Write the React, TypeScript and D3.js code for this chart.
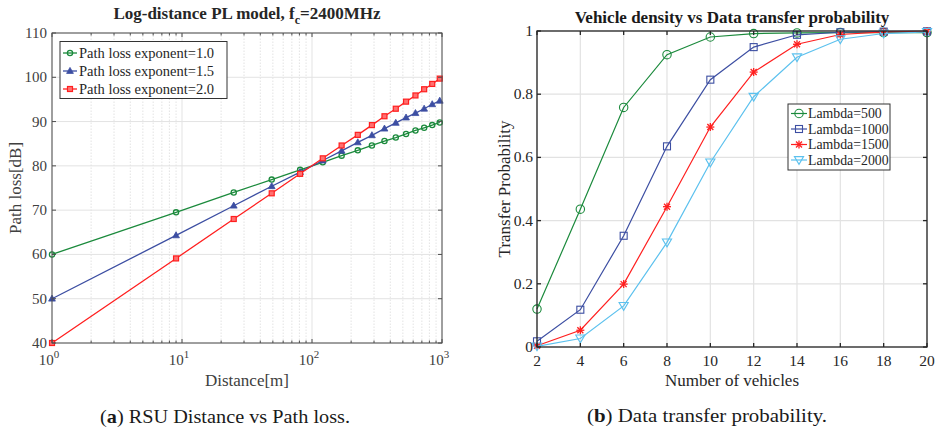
import React from "react";
import * as d3 from "d3";

// ---------- Data: left chart ----------
const distances = [1, 9, 25, 49, 81, 121, 169, 225, 289, 361, 441, 529, 625, 729, 841, 961];
const plExp10 = [60, 69.5, 74.0, 76.9, 79.1, 80.8, 82.3, 83.5, 84.6, 85.6, 86.4, 87.2, 88.0, 88.6, 89.2, 89.8];
const plExp15 = [50, 64.3, 71.0, 75.4, 78.6, 81.2, 83.4, 85.3, 86.9, 88.4, 89.7, 90.9, 91.9, 92.9, 93.9, 94.7];
const plExp20 = [40, 59.1, 68.0, 73.8, 78.2, 81.7, 84.6, 87.0, 89.2, 91.2, 92.9, 94.5, 95.9, 97.3, 98.5, 99.7];
const leftSeriesNames = ["Path loss exponent=1.0", "Path loss exponent=1.5", "Path loss exponent=2.0"];
const leftYTicks = [40, 50, 60, 70, 80, 90, 100, 110];
const leftXTicks = [1, 10, 100, 1000];

// ---------- Data: right chart ----------
const vehicles = [2, 4, 6, 8, 10, 12, 14, 16, 18, 20];
const lambda500 = [0.12, 0.436, 0.758, 0.925, 0.981, 0.992, 0.994, 0.995, 0.995, 0.995];
const lambda1000 = [0.018, 0.118, 0.352, 0.635, 0.846, 0.949, 0.988, 0.996, 0.998, 0.999];
const lambda1500 = [0.004, 0.053, 0.199, 0.444, 0.696, 0.870, 0.958, 0.989, 0.997, 0.999];
const lambda2000 = [0.002, 0.027, 0.13, 0.331, 0.584, 0.792, 0.917, 0.974, 0.992, 0.997];
const rightSeriesNames = ["Lambda=500", "Lambda=1000", "Lambda=1500", "Lambda=2000"];
const rightYTicks = [0, 0.2, 0.4, 0.6, 0.8, 1];
const rightYTickLabels = ["0", "0.2", "0.4", "0.6", "0.8", "1"];

const FONT = "'Liberation Serif', 'Times New Roman', serif";
const GREEN = "#1b8a3c";
const BLUE = "#3c4ea2";
const RED = "#ff1f1f";
const LBLUE = "#5cc1ee";

type MarkerKind = "circle" | "triangle" | "square" | "asterisk" | "tridown" | "bigcircle" | "bigsquare";

function Marker({ kind, x, y, color }: { kind: MarkerKind; x: number; y: number; color: string }) {
  switch (kind) {
    case "circle":
      return <circle cx={x} cy={y} r={2.6} fill="none" stroke={color} strokeWidth={1.3} />;
    case "triangle":
      return (
        <path
          d={`M${x},${y - 3.6}L${x + 3.4},${y + 2.4}L${x - 3.4},${y + 2.4}Z`}
          fill={color}
          stroke={color}
          strokeWidth={0.8}
        />
      );
    case "square":
      return <rect x={x - 2.5} y={y - 2.5} width={5} height={5} fill="#ff7070" stroke={color} strokeWidth={1.2} />;
    case "bigcircle":
      return <circle cx={x} cy={y} r={4.2} fill="none" stroke={color} strokeWidth={1.1} />;
    case "bigsquare":
      return <rect x={x - 3.5} y={y - 3.5} width={7} height={7} fill="none" stroke={color} strokeWidth={1.1} />;
    case "asterisk": {
      const r = 4;
      const d = r * 0.75;
      return (
        <g stroke={color} strokeWidth={1.3}>
          <line x1={x - r} y1={y} x2={x + r} y2={y} />
          <line x1={x} y1={y - r} x2={x} y2={y + r} />
          <line x1={x - d} y1={y - d} x2={x + d} y2={y + d} />
          <line x1={x - d} y1={y + d} x2={x + d} y2={y - d} />
        </g>
      );
    }
    case "tridown":
      return (
        <path
          d={`M${x - 4.6},${y - 3.4}L${x + 4.6},${y - 3.4}L${x},${y + 4.4}Z`}
          fill="none"
          stroke={color}
          strokeWidth={1.1}
        />
      );
  }
  return null;
}

function LeftChart() {
  const x0 = 52, x1 = 442, y0 = 343, y1 = 33;
  const x = d3.scaleLog().domain([1, 1000]).range([x0, x1]);
  const y = d3.scaleLinear().domain([40, 110]).range([y0, y1]);
  const series = [
    { vals: plExp10, color: GREEN, marker: "circle" as MarkerKind },
    { vals: plExp15, color: BLUE, marker: "triangle" as MarkerKind },
    { vals: plExp20, color: RED, marker: "square" as MarkerKind },
  ];
  const line = d3
    .line<[number, number]>()
    .x((d) => x(d[0]))
    .y((d) => y(d[1]));
  const minor: number[] = [];
  for (const dec of [1, 10, 100]) for (let k = 2; k <= 9; k++) minor.push(dec * k);
  const axisColor = "#4d4d4d";
  return (
    <g>
      {/* grid */}
      {minor.map((v) => (
        <line key={"mg" + v} x1={x(v)} x2={x(v)} y1={y0} y2={y1} stroke="#dcdcdc" strokeWidth={0.8} strokeDasharray="1.5,1.5" />
      ))}
      {leftXTicks.map((v) => (
        <line key={"xg" + v} x1={x(v)} x2={x(v)} y1={y0} y2={y1} stroke="#e3e3e3" strokeWidth={1} />
      ))}
      {leftYTicks.map((v) => (
        <line key={"yg" + v} x1={x0} x2={x1} y1={y(v)} y2={y(v)} stroke="#e3e3e3" strokeWidth={1} />
      ))}
      {/* series */}
      {series.map((s, i) => (
        <g key={"s" + i}>
          <path
            d={line(distances.map((dd, j) => [dd, s.vals[j]] as [number, number])) || ""}
            fill="none"
            stroke={s.color}
            strokeWidth={1.3}
          />
          {distances.map((dd, j) => (
            <Marker key={j} kind={s.marker} x={x(dd)} y={y(s.vals[j])} color={s.color} />
          ))}
        </g>
      ))}
      {/* axes box */}
      <rect x={x0} y={y1} width={x1 - x0} height={y0 - y1} fill="none" stroke={axisColor} strokeWidth={1} />
      {leftYTicks.map((v) => (
        <g key={"yt" + v}>
          <line x1={x0} x2={x0 + 4} y1={y(v)} y2={y(v)} stroke={axisColor} />
          <line x1={x1} x2={x1 - 4} y1={y(v)} y2={y(v)} stroke={axisColor} />
          <text x={x0 - 5} y={y(v) + 5} textAnchor="end" fontSize={15} fill="#404040" fontFamily={FONT}>
            {v}
          </text>
        </g>
      ))}
      {minor.map((v) => (
        <g key={"mt" + v}>
          <line x1={x(v)} x2={x(v)} y1={y0} y2={y0 - 2.5} stroke={axisColor} />
          <line x1={x(v)} x2={x(v)} y1={y1} y2={y1 + 2.5} stroke={axisColor} />
        </g>
      ))}
      {leftXTicks.map((v) => (
        <g key={"xt" + v}>
          <line x1={x(v)} x2={x(v)} y1={y0} y2={y0 - 4} stroke={axisColor} />
          <line x1={x(v)} x2={x(v)} y1={y1} y2={y1 + 4} stroke={axisColor} />
          <text x={x(v) - 3} y={365} textAnchor="middle" fontSize={15} fill="#404040" fontFamily={FONT}>
            10
            <tspan fontSize={11} dy={-7}>
              {Math.round(Math.log10(v))}
            </tspan>
          </text>
        </g>
      ))}
      {/* labels */}
      <text x={(x0 + x1) / 2} y={386} textAnchor="middle" fontSize={17} fill="#404040" fontFamily={FONT}>
        Distance[m]
      </text>
      <text
        transform={`translate(21,${(y0 + y1) / 2}) rotate(-90)`}
        textAnchor="middle"
        fontSize={17}
        fill="#404040"
        fontFamily={FONT}
      >
        Path loss[dB]
      </text>
      <text x={(x0 + x1) / 2} y={19} textAnchor="middle" fontSize={17} fontWeight="bold" fill="#262626" fontFamily={FONT}>
        Log-distance PL model, f
        <tspan fontSize={12} dy={5}>c</tspan>
        <tspan dy={-5}>=2400MHz</tspan>
      </text>
      {/* legend */}
      <rect x={60} y={41.5} width={167} height={57} fill="#ffffff" stroke="#333" strokeWidth={1} />
      {series.map((s, i) => {
        const ly = 53 + i * 18;
        return (
          <g key={"lg" + i}>
            <line x1={63} x2={77} y1={ly} y2={ly} stroke={s.color} strokeWidth={1.3} />
            <Marker kind={s.marker} x={70} y={ly} color={s.color} />
            <text x={79} y={ly + 5} fontSize={14.5} fill="#262626" fontFamily={FONT}>
              {leftSeriesNames[i]}
            </text>
          </g>
        );
      })}
    </g>
  );
}

function RightChart() {
  const x0 = 537, x1 = 927, y0 = 347, y1 = 31;
  const x = d3.scaleLinear().domain([2, 20]).range([x0, x1]);
  const y = d3.scaleLinear().domain([0, 1]).range([y0, y1]);
  const series = [
    { vals: lambda500, color: GREEN, marker: "bigcircle" as MarkerKind },
    { vals: lambda1000, color: BLUE, marker: "bigsquare" as MarkerKind },
    { vals: lambda1500, color: RED, marker: "asterisk" as MarkerKind },
    { vals: lambda2000, color: LBLUE, marker: "tridown" as MarkerKind },
  ];
  const line = d3
    .line<[number, number]>()
    .x((d) => x(d[0]))
    .y((d) => y(d[1]));
  const axisColor = "#262626";
  return (
    <g>
      {vehicles.map((v) => (
        <line key={"xg" + v} x1={x(v)} x2={x(v)} y1={y0} y2={y1} stroke="#e2e2e2" strokeWidth={1.2} />
      ))}
      {rightYTicks.map((v) => (
        <line key={"yg" + v} x1={x0} x2={x1} y1={y(v)} y2={y(v)} stroke="#e2e2e2" strokeWidth={1.2} />
      ))}
      {series.map((s, i) => (
        <g key={"s" + i}>
          <path
            d={line(vehicles.map((vv, j) => [vv, s.vals[j]] as [number, number])) || ""}
            fill="none"
            stroke={s.color}
            strokeWidth={1.2}
          />
          {vehicles.map((vv, j) => (
            <Marker key={j} kind={s.marker} x={x(vv)} y={y(s.vals[j])} color={s.color} />
          ))}
        </g>
      ))}
      <rect x={x0} y={y1} width={x1 - x0} height={y0 - y1} fill="none" stroke={axisColor} strokeWidth={1.3} />
      {rightYTicks.map((v, i) => (
        <g key={"yt" + v}>
          <line x1={x0} x2={x0 + 4} y1={y(v)} y2={y(v)} stroke={axisColor} strokeWidth={1.3} />
          <line x1={x1} x2={x1 - 4} y1={y(v)} y2={y(v)} stroke={axisColor} strokeWidth={1.3} />
          <text x={x0 - 4} y={y(v) + 5} textAnchor="end" fontSize={15.5} fill="#262626" fontFamily={FONT}>
            {rightYTickLabels[i]}
          </text>
        </g>
      ))}
      {vehicles.map((v) => (
        <g key={"xt" + v}>
          <line x1={x(v)} x2={x(v)} y1={y0} y2={y0 - 4} stroke={axisColor} strokeWidth={1.3} />
          <line x1={x(v)} x2={x(v)} y1={y1} y2={y1 + 4} stroke={axisColor} strokeWidth={1.3} />
          <text x={x(v)} y={366} textAnchor="middle" fontSize={15.5} fill="#262626" fontFamily={FONT}>
            {v}
          </text>
        </g>
      ))}
      <text x={(x0 + x1) / 2} y={386} textAnchor="middle" fontSize={17} fill="#262626" fontFamily={FONT}>
        Number of vehicles
      </text>
      <text
        transform={`translate(510,${(y0 + y1) / 2}) rotate(-90)`}
        textAnchor="middle"
        fontSize={17}
        fill="#262626"
        fontFamily={FONT}
      >
        Transfer Probability
      </text>
      <text x={(x0 + x1) / 2} y={23} textAnchor="middle" fontSize={17} fontWeight="bold" fill="#1a1a1a" fontFamily={FONT}>
        Vehicle density vs Data transfer probability
      </text>
      {/* legend */}
      <rect x={788} y={104} width={102} height={66} fill="#ffffff" stroke="#333" strokeWidth={1} />
      {series.map((s, i) => {
        const ly = 113.5 + i * 15.5;
        return (
          <g key={"lg" + i}>
            <line x1={791} x2={807} y1={ly} y2={ly} stroke={s.color} strokeWidth={1.2} />
            <Marker kind={s.marker} x={799} y={ly} color={s.color} />
            <text x={808} y={ly + 4.5} fontSize={13.8} fill="#262626" fontFamily={FONT}>
              {rightSeriesNames[i]}
            </text>
          </g>
        );
      })}
    </g>
  );
}

export default function App() {
  return (
    <svg
      width={940}
      height={430}
      viewBox="0 0 940 430"
      style={{ position: "absolute", left: 0, top: 0, background: "#ffffff" }}
    >
      <rect x={0} y={0} width={940} height={430} fill="#ffffff" />
      <LeftChart />
      <RightChart />
      <text
        x={225}
        y={423}
        textAnchor="middle"
        fontSize={19.5}
        fill="#1a1a1a"
        fontFamily={FONT}
        textLength={250}
        lengthAdjust="spacingAndGlyphs"
      >
        (<tspan fontWeight="bold">a</tspan>) RSU Distance vs Path loss.
      </text>
      <text
        x={707}
        y={422}
        textAnchor="middle"
        fontSize={19.5}
        fill="#1a1a1a"
        fontFamily={FONT}
        textLength={240}
        lengthAdjust="spacingAndGlyphs"
      >
        (<tspan fontWeight="bold">b</tspan>) Data transfer probability.
      </text>
    </svg>
  );
}
